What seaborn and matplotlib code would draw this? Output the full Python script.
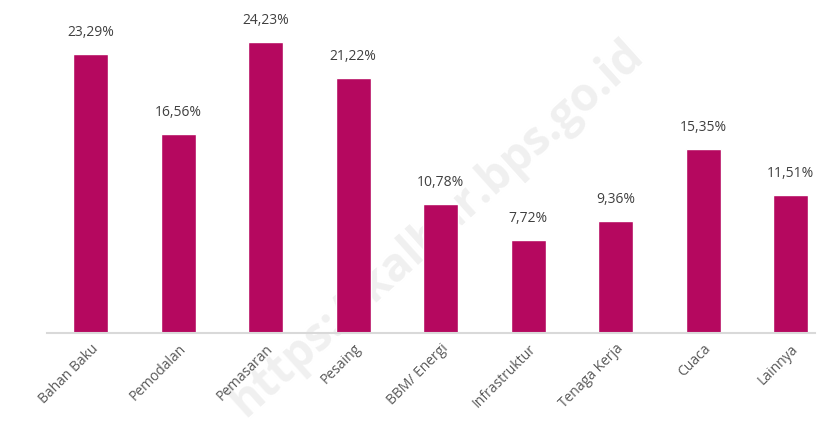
import numpy as np
import pandas as pd
import seaborn as sns
import matplotlib.pyplot as plt

kategori = ['Bahan Baku', 'Pemodalan', 'Pemasaran', 'Pesaing', 'BBM/ Energi',
            'Infrastruktur', 'Tenaga Kerja', 'Cuaca', 'Lainnya']
persen = [23.29, 16.56, 24.23, 21.22, 10.78, 7.72, 9.36, 15.35, 11.51]
label = ['23,29%', '16,56%', '24,23%', '21,22%', '10,78%', '7,72%', '9,36%', '15,35%', '11,51%']

df = pd.DataFrame({'kategori': kategori, 'persen': persen})

sns.set_style('white')
plt.rcParams['font.family'] = ['Open Sans', 'DejaVu Sans']

fig = plt.figure(figsize=(8.24, 4.48), dpi=100)
ax = fig.add_axes([47/824, (448-333)/448, (815-47)/824, 333/448])
ax.set_zorder(1)
ax.patch.set_alpha(0)

# watermark di belakang batang
fig.text(0.53, 0.49, 'https://kalbar.bps.go.id', fontsize=33, color='#f0f0f0',
         rotation=42, ha='center', va='center', fontweight='bold', zorder=-5)

sns.barplot(data=df, x='kategori', y='persen', color='#B5085F', width=0.4,
            saturation=1, ax=ax)

for i, (v, t) in enumerate(zip(persen, label)):
    ax.annotate(t, (i, v), xytext=(0, 10), textcoords='offset points',
                ha='center', va='bottom', fontsize=10, color='#404040')

ax.set_xlim(-0.5, 8.28)
ax.set_ylim(0, 27.75)
ax.set_xlabel('')
ax.set_ylabel('')
ax.set_yticks([])
ax.tick_params(axis='x', length=0, pad=6)
plt.setp(ax.get_xticklabels(), rotation=45, ha='right', rotation_mode='anchor',
         fontsize=10, color='#595959')
for s in ['top', 'right', 'left']:
    ax.spines[s].set_visible(False)
ax.spines['bottom'].set_color('#d9d9d9')
ax.spines['bottom'].set_linewidth(1.5)

fig.savefig('out.png', dpi=100)
